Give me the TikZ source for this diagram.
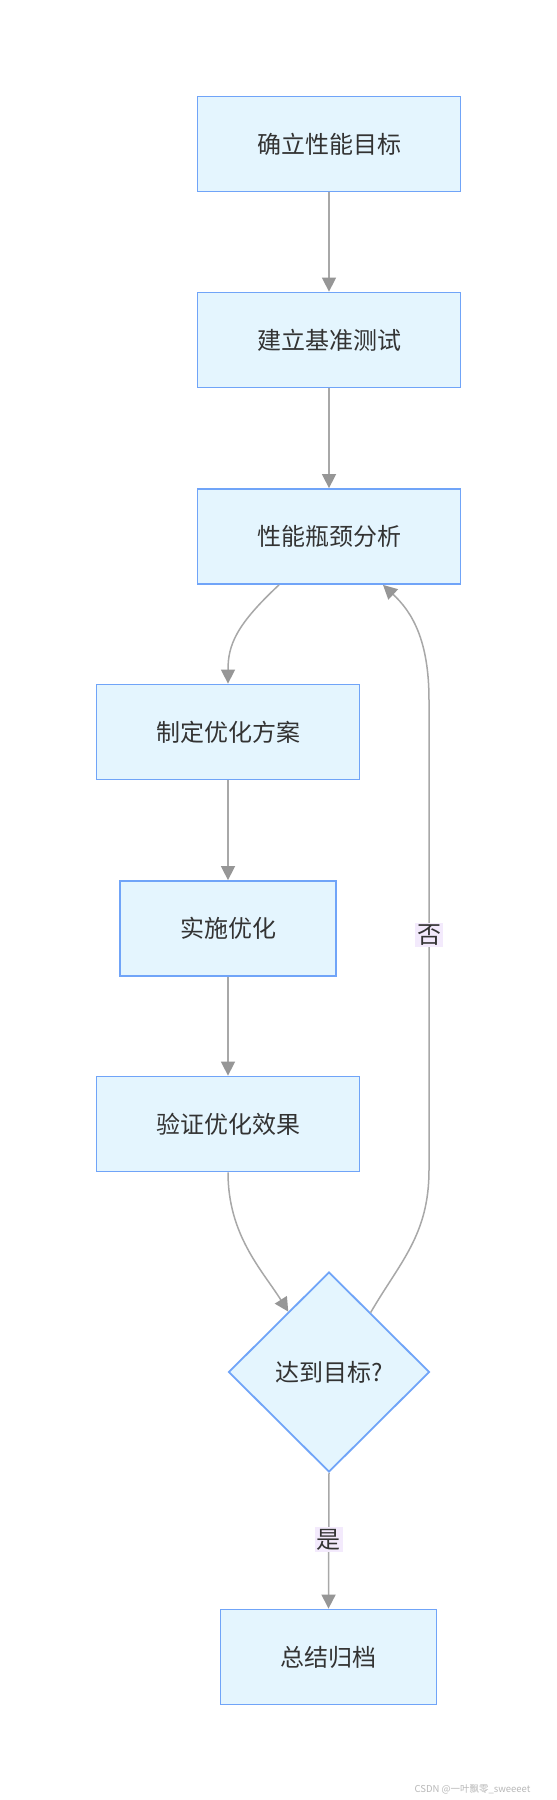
\documentclass[tikz,border=0pt]{standalone}
\usepackage{fontspec}
\setmainfont{Noto Sans CJK SC}
\usetikzlibrary{arrows.meta,shapes.geometric}
\definecolor{boxline}{RGB}{112,164,248}
\definecolor{boxfill}{RGB}{228,245,254}
\definecolor{edgegray}{RGB}{168,168,168}
\definecolor{tipgray}{RGB}{150,150,150}
\definecolor{lblfill}{RGB}{243,234,252}
\definecolor{txtgray}{RGB}{51,51,51}
\begin{document}
\begin{tikzpicture}[x=1pt,y=-1pt,
    stepbox/.style={draw=boxline, fill=boxfill, line width=1.8pt, font=\fontsize{24}{29}\selectfont, text=txtgray, inner sep=0pt, minimum height=95pt},
    decide/.style={diamond, draw=boxline, fill=boxfill, line width=1.8pt, font=\fontsize{24}{29}\selectfont, text=txtgray, inner sep=0pt, minimum width=201pt, minimum height=200pt},
    flow/.style={draw=edgegray, line width=1.5pt, -{Triangle[width=14pt,length=14pt,fill=edgegray!90!black,color=tipgray]}},
    lbl/.style={fill=lblfill, font=\fontsize{24}{29}\selectfont, text=txtgray, inner sep=2pt}]
    \useasboundingbox[fill=white] (0,0) rectangle (557,1800);
    \node[stepbox,minimum width=263pt] (goal) at (329,144) {确立性能目标};
    \node[stepbox,minimum width=263pt] (bench) at (329,340) {建立基准测试};
    \node[stepbox,minimum width=263pt] (neck) at (329,536.5) {性能瓶颈分析};
    \node[stepbox,minimum width=263pt] (plan) at (228,732) {制定优化方案};
    \node[stepbox,minimum width=216pt] (impl) at (228,928.5) {实施优化};
    \node[stepbox,minimum width=263pt] (check) at (228,1124) {验证优化效果};
    \node[decide] (reach) at (329,1372) {达到目标?};
    \node[stepbox,minimum width=216pt] (sum) at (328.5,1657) {总结归档};
    \coordinate (backlow) at (429,1170);
    \coordinate (backup) at (429,700);
    \draw[flow] (goal) -- (bench);
    \draw[flow] (bench) -- (neck);
    \draw[flow] ([xshift=-50pt]neck.south) .. controls (236,625) and (228,645) .. (plan.north);
    \draw[flow] (plan) -- (impl);
    \draw[flow] (impl) -- (check);
    \draw[flow] (check.south) .. controls (228,1235) and (262,1270) .. (reach.124);
    \draw[flow] (reach.55) .. controls (400,1262) and (429,1235) .. (backlow) -- node[lbl]{否} (backup) .. controls (429,640) and (412,612) .. ([xshift=54pt]neck.south);
    \draw[flow] (reach.south) -- node[lbl,pos=0.49]{是} (sum.north);
    \node[font=\fontsize{9.5}{12}\selectfont, text=black!28, anchor=east] (mark) at (534,1789) {CSDN @一叶飘零\_sweeeet};
\end{tikzpicture}
\end{document}
